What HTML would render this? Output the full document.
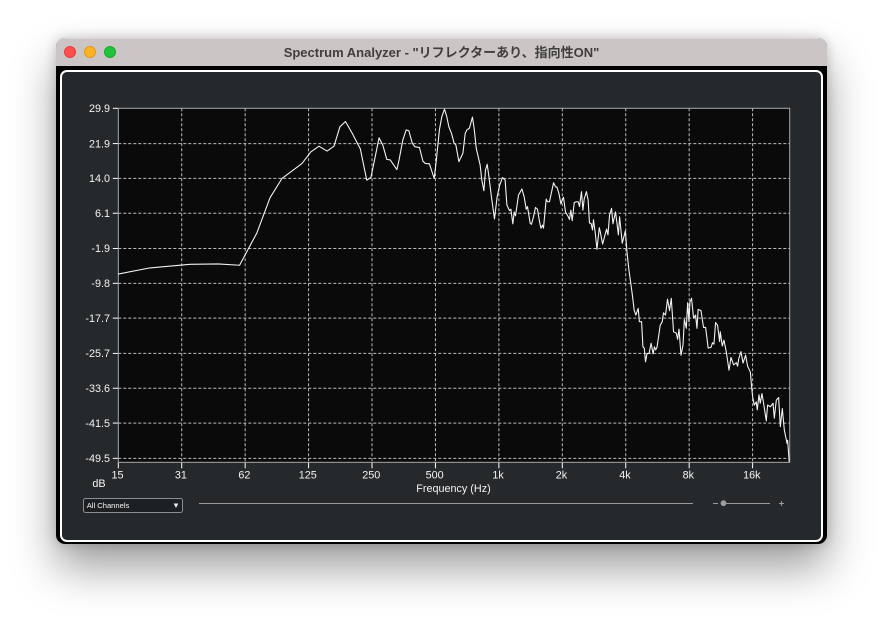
<!DOCTYPE html>
<html lang="ja">
<head>
<meta charset="utf-8">
<title>Spectrum Analyzer</title>
<style>
html,body{margin:0;padding:0;background:#fff;width:883px;height:619px;overflow:hidden}
body{position:relative;font-family:"Liberation Sans","Noto Sans CJK JP",sans-serif}
#win{position:absolute;left:56px;top:38px;width:771px;height:506px;background:#000;border-radius:9px;box-shadow:0 24px 44px rgba(0,0,0,.38),0 0 12px rgba(0,0,0,.2)}
#bar{position:absolute;left:0;top:0;width:771px;height:28px;background:#cbc5c5;border-radius:9px 9px 0 0;border-top:1px solid #dad6d6;box-sizing:border-box}
#ttl{position:absolute;left:0;top:0;width:771px;text-align:center;font-weight:700;font-size:13px;line-height:27px;color:#403e3e;white-space:nowrap}
.dot{position:absolute;top:7px;width:12px;height:12px;border-radius:50%;box-sizing:border-box}
#panel{position:absolute;left:4px;top:32px;width:763px;height:472px;box-sizing:border-box;background:#25292c;border:2px solid #fff;border-radius:7px}
svg{position:absolute;left:0;top:0}
text{font-family:"Liberation Sans","Noto Sans CJK JP",sans-serif;fill:#f4f4f4}
</style>
</head>
<body>
<div id="win">
  <div id="bar">
    <div id="ttl">Spectrum Analyzer - "リフレクターあり、指向性ON"</div>
    <div class="dot" style="left:8px;background:#fd4f4c;border:1px solid #e2403c"></div>
    <div class="dot" style="left:28px;background:#fdb126;border:1px solid #e09c1c"></div>
    <div class="dot" style="left:48px;background:#20c33b;border:1px solid #1aa92f"></div>
  </div>
  <div id="panel"></div>
</div>
<svg id="chart" width="883" height="619" viewBox="0 0 883 619"></svg>
<script>
const xTickHz = [15.625, 31.25, 62.5, 125, 250, 500, 1000, 2000, 4000, 8000, 16000];
const xTickLabels = ["15", "31", "62", "125", "250", "500", "1k", "2k", "4k", "8k", "16k"];
const yTickValues = [29.9, 21.9, 14.0, 6.1, -1.9, -9.8, -17.7, -25.7, -33.6, -41.5, -49.5];
const frequencyHz = [
15.6,22.1,34.2,46.5,58.8,71,82,93.5,116.4,128,140,153,165,176,187,201,220,236,247,257,270,281,294,305,328,336,350,363,374,388,399,420,436,447,468,493,504,522,536,552,566,579,596,613,625,646,675,692,705,725,749,763,781,815,830,849,864,880,897,922,953,981,
1009,1040,1071,1091,1123,1140,1165,1182,1199,1239,1286,1319,1348,1367,1408,1428,1460,1492,1525,1554,1583,1610,1628,1677,1701,1738,1817,1857,1886,1927,1970,1998,
2026,2071,2135,2163,2196,2228,2278,2328,2380,2414,2466,2505,2540,2603,2652,2691,2742,2782,2812,2874,2920,2996,3028,3106,3244,3294,3352,3426,3478,3579,3691,3740,3850,3985,
4053,4125,4142,4291,4386,4467,4584,4642,4756,4827,4898,4965,5050,5163,5277,5395,5472,5549,5630,5832,5960,6045,6178,6315,6455,6578,6746,6950,7050,7160,7318,7480,7590,7755,7870,7980,
8070,8211,8395,8580,8710,8825,9105,9360,9575,9850,10170,10320,10490,10677,10912,11155,11240,11487,11700,12000,12362,12637,13000,13395,13583,13735,14095,14408,14824,15152,15608,15832,
16000,16300,16656,16840,17160,17395,17720,18040,18580,18850,19416,20000,20285,20730,21260,21665,22140,22630,23310,23460,23870
];
const levelDb = [
-7.7,-6.3,-5.5,-5.4,-5.7,1.6,9.6,14.0,17.4,20.0,21.3,20.2,21.3,25.7,26.9,24.3,20.7,13.6,14.2,18.2,23.2,21.6,18.3,18.2,16.0,18.2,22.7,25.0,24.8,22.0,21.2,21.0,17.9,17.4,17.3,14.0,17.8,25.0,28.0,29.7,28.0,25.7,24.2,22.0,21.6,17.8,19.7,24.2,25.0,25.4,27.9,25.4,20.8,17.0,13.6,11.2,15.9,17.2,14.4,9.8,4.8,9.8,
12.5,14.2,13.6,8.0,6.7,7.0,3.7,6.4,5.5,10.2,11.6,9.8,7.0,7.6,3.8,3.6,5.3,7.4,7.0,4.6,2.7,3.4,2.7,9.3,8.7,8.7,13.0,12.1,12.0,10.6,8.2,9.1,
9.7,6.4,5.3,4.7,6.8,4.4,8.5,8.7,8.7,7.6,11.0,6.8,9.3,11.0,9.1,3.9,3.7,2.3,4.6,1.2,-2.1,2.8,1.9,-0.9,2.5,1.2,5.7,7.2,3.7,6.4,1.2,5.3,-0.7,2.1,
-2.6,-6.0,-6.8,-12.1,-15.9,-17.0,-15.5,-18.5,-18.5,-24.2,-24.5,-27.6,-25.7,-25.7,-23.4,-25.8,-24.2,-24.9,-24.3,-19.3,-18.5,-16.5,-17.0,-13.4,-16.0,-13.2,-20.8,-21.1,-22.5,-20.2,-26.1,-23.8,-18.0,-20.0,-14.2,-18.5,
-14.0,-13.2,-17.7,-17.0,-20.0,-15.7,-16.0,-19.8,-19.8,-24.5,-24.3,-23.3,-23.6,-18.7,-19.3,-23.0,-20.8,-24.0,-22.7,-25.3,-29.5,-26.6,-28.3,-27.8,-28.6,-27.0,-25.3,-27.9,-26.1,-28.6,-29.9,-33.3,
-35.5,-37.4,-36.7,-38.5,-35.1,-37.0,-34.8,-37.0,-41.0,-37.4,-37.8,-37.0,-40.4,-36.3,-35.7,-42.3,-38.2,-43.1,-46.1,-45.4,-50.3
];

const NS = "http://www.w3.org/2000/svg";
const svg = document.getElementById("chart");
const plotLeft = 118.3, plotRight = 789.7, plotTop = 108.3, plotBottom = 462.3;
const hzMin = 15.625, hzMax = 24000, dbMax = 29.9, dbMin = -50.4;
function xScale(hz) {
  return plotLeft + (Math.log2(hz / hzMin) / Math.log2(hzMax / hzMin)) * (plotRight - plotLeft);
}
function yScale(db) {
  return plotTop + ((dbMax - db) / (dbMax - dbMin)) * (plotBottom - plotTop);
}
function make(tag, props, text) {
  const el = document.createElementNS(NS, tag);
  for (const k in props) el.setAttribute(k, props[k]);
  if (text !== undefined) el.textContent = text;
  svg.appendChild(el);
  return el;
}

const bg = make("rect", {x: plotLeft, y: plotTop, width: plotRight - plotLeft, height: plotBottom - plotTop, fill: "#0a0a0a"});



xTickHz.forEach(function (hz, i) {
  const x = xScale(hz);
  if (i > 0) {
    const g = make("line", {x1: x, x2: x, y1: plotTop, y2: plotBottom, stroke: "#bdbdbd", "stroke-width": 1, "stroke-dasharray": "3 2"});
    
    
  }
  const t = make("line", {x1: x, x2: x, y1: plotBottom, y2: plotBottom + 6, stroke: "#fff", "stroke-width": 1});
  
  
  const l = make("text", {x: x - 0.8, y: 478.5, "text-anchor": "middle", "font-size": 10.8}, xTickLabels[i]);
  
  
});

yTickValues.forEach(function (db, i) {
  const y = yScale(db);
  if (i > 0) {
    const g = make("line", {x1: plotLeft, x2: plotRight, y1: y, y2: y, stroke: "#bdbdbd", "stroke-width": 1, "stroke-dasharray": "3 2"});
    
    
  }
  const t = make("line", {x1: plotLeft - 5.5, x2: plotLeft, y1: y, y2: y, stroke: "#fff", "stroke-width": 1});
  
  
  const l = make("text", {x: 110, y: y + 3.7, "text-anchor": "end", "font-size": 10.8}, db.toFixed(1));
  
  
});

const frame = make("rect", {x: plotLeft, y: plotTop, width: plotRight - plotLeft, height: plotBottom - plotTop, fill: "none", stroke: "#a9a9a9", "stroke-width": 1});



const pts = frequencyHz.map(function (hz, i) {
  return xScale(hz).toFixed(2) + "," + yScale(levelDb[i]).toFixed(2);
}).join(" ");
const trace = make("polyline", {points: pts, fill: "none", stroke: "#f2f2f2", "stroke-width": 1.1, "stroke-linejoin": "round"});



const yTitle = make("text", {x: 99, y: 487, "text-anchor": "middle", "font-size": 10.8}, "dB");


const xTitle = make("text", {x: 453.5, y: 492, "text-anchor": "middle", "font-size": 10.8}, "Frequency (Hz)");



const dd = make("rect", {x: 83.5, y: 498.5, width: 99, height: 14, rx: 2, fill: "#1d2023", stroke: "#8b8e90", "stroke-width": 1});


const ddText = make("text", {x: 86.7, y: 508, "font-size": 7.6, fill: "#ddd"}, "All Channels");


const ddArrow = make("polygon", {points: "173.7,503.5 178.3,503.5 176,508", fill: "#eee"});



const scroll = make("line", {x1: 199, x2: 693, y1: 503.5, y2: 503.5, stroke: "#9a9a9a", "stroke-width": 1});


const minus = make("line", {x1: 713, x2: 718, y1: 503.5, y2: 503.5, stroke: "#9a9a9a", "stroke-width": 1});


const track = make("line", {x1: 723, x2: 770, y1: 503.5, y2: 503.5, stroke: "#9a9a9a", "stroke-width": 1});


const knob = make("circle", {cx: 723.5, cy: 503.2, r: 2.9, fill: "#9d9d9d"});


const plusH = make("line", {x1: 779, x2: 784, y1: 503.5, y2: 503.5, stroke: "#9a9a9a", "stroke-width": 1});


const plusV = make("line", {x1: 781.5, x2: 781.5, y1: 501, y2: 506, stroke: "#9a9a9a", "stroke-width": 1});


</script>
</body>
</html>
